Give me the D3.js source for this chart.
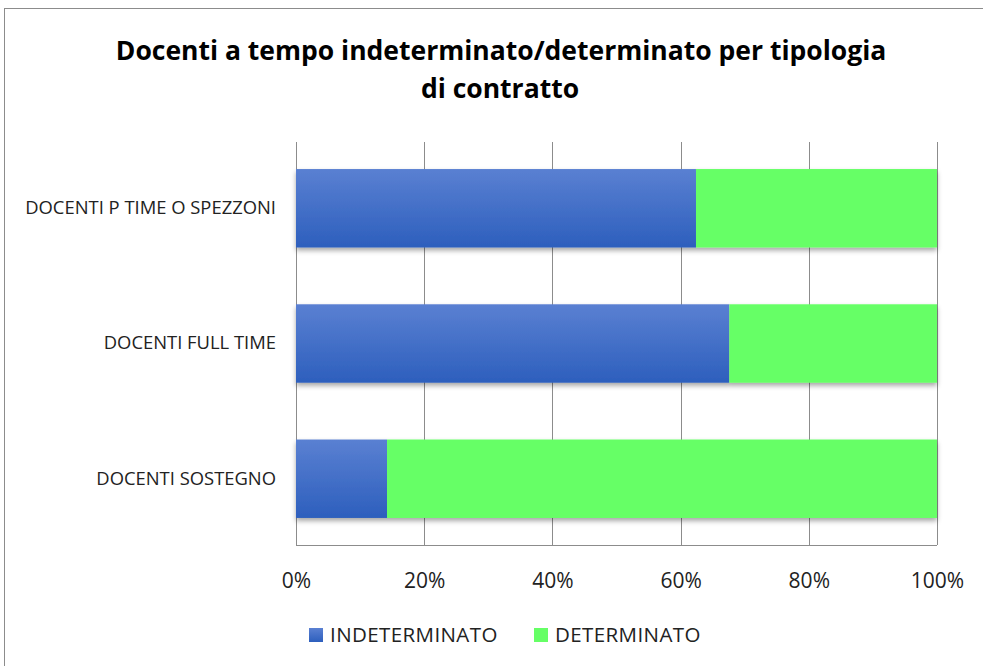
<!DOCTYPE html>
<html>
<head>
<meta charset="utf-8">
<script src="https://cdn.jsdelivr.net/npm/d3@7"></script>
<style>
  html, body { margin: 0; padding: 0; background: #fff; }
  #chart { width: 983px; height: 666px; }
</style>
</head>
<body>
<div id="chart"></div>
<script>
const categories = ["DOCENTI P TIME O SPEZZONI", "DOCENTI FULL TIME", "DOCENTI SOSTEGNO"];
const indeterminato = [62.4, 67.6, 14.2];
const determinato = [37.6, 32.4, 85.8];
const seriesNames = ["INDETERMINATO", "DETERMINATO"];
const tickValues = [0, 20, 40, 60, 80, 100];

function draw() {
  const w = 983, h = 666;
  const margin = { top: 142, right: 46, bottom: 121, left: 296 };
  const innerW = w - margin.left - margin.right;
  const innerH = h - margin.top - margin.bottom;
  const font = "'Open Sans', sans-serif";

  const svg = d3.select("#chart").append("svg")
    .attr("width", w).attr("height", h)
    .style("font-family", font);

  const defs = svg.append("defs");
  const grad = defs.append("linearGradient")
    .attr("id", "blueGrad").attr("x1", 0).attr("y1", 0).attr("x2", 0).attr("y2", 1);
  grad.append("stop").attr("offset", "0%").attr("stop-color", "#5a80d2");
  grad.append("stop").attr("offset", "100%").attr("stop-color", "#2d5fbd");
  const shadow = defs.append("filter").attr("id", "shadow")
    .attr("x", "-5%").attr("y", "-20%").attr("width", "110%").attr("height", "150%");
  shadow.append("feDropShadow").attr("dx", 0).attr("dy", 3).attr("stdDeviation", 2.5)
    .attr("flood-color", "#000").attr("flood-opacity", 0.35);

  // outer frame
  svg.append("rect")
    .attr("x", 4.5).attr("y", 8.5).attr("width", w + 10).attr("height", h + 10)
    .attr("fill", "none").attr("stroke", "#8c8c8c").attr("stroke-width", 1);

  // title
  const title = svg.append("text")
    .attr("text-anchor", "middle")
    .attr("font-weight", "bold")
    .attr("font-size", 26.5)
    .attr("fill", "#000");
  title.append("tspan").attr("x", 501).attr("y", 60).text("Docenti a tempo indeterminato/determinato per tipologia");
  title.append("tspan").attr("x", 500).attr("y", 98).text("di contratto");

  const g = svg.append("g").attr("transform", `translate(${margin.left},${margin.top})`);

  const x = d3.scaleLinear().domain([0, 100]).range([0, innerW]);
  const y = d3.scaleBand().domain(categories).range([0, innerH]).paddingInner(0.42).paddingOuter(0.2);

  // gridlines
  g.append("g").selectAll("line")
    .data(tickValues)
    .join("line")
    .attr("x1", d => Math.round(x(d)) + 0.5).attr("x2", d => Math.round(x(d)) + 0.5)
    .attr("y1", 0).attr("y2", innerH)
    .attr("stroke", "#8c8c8c");
  g.append("line")
    .attr("x1", 0).attr("x2", innerW)
    .attr("y1", innerH + 0.5).attr("y2", innerH + 0.5)
    .attr("stroke", "#8c8c8c");

  const stacked = categories.map((c, i) => ({ c, a: indeterminato[i], b: determinato[i] }));

  const bars = g.append("g").attr("filter", "url(#shadow)");
  bars.selectAll("rect.ind")
    .data(stacked)
    .join("rect")
    .attr("class", "ind")
    .attr("x", x(0))
    .attr("y", d => y(d.c))
    .attr("width", d => x(d.a) - x(0))
    .attr("height", y.bandwidth())
    .attr("fill", "url(#blueGrad)");
  bars.selectAll("rect.det")
    .data(stacked)
    .join("rect")
    .attr("class", "det")
    .attr("x", d => x(d.a))
    .attr("y", d => y(d.c))
    .attr("width", d => x(d.a + d.b) - x(d.a))
    .attr("height", y.bandwidth())
    .attr("fill", "#66ff66");

  // x axis labels
  const xAxis = g.append("g")
    .attr("transform", `translate(0,${innerH})`)
    .call(d3.axisBottom(x).tickValues(tickValues).tickFormat(d => d + "%").tickSize(0).tickPadding(28));
  xAxis.select(".domain").remove();
  xAxis.selectAll("text")
    .attr("font-family", font)
    .attr("font-size", 21)
    .attr("fill", "#222");

  // y axis labels
  const yAxis = g.append("g")
    .call(d3.axisLeft(y).tickSize(0).tickPadding(20));
  yAxis.select(".domain").remove();
  yAxis.selectAll("text")
    .attr("font-family", font)
    .attr("font-size", 18.4)
    .attr("fill", "#222");

  // legend
  const legendColors = ["url(#blueGrad)", "#66ff66"];
  const legendX = [309, 534];
  const legend = svg.append("g");
  seriesNames.forEach((name, i) => {
    legend.append("rect")
      .attr("x", legendX[i]).attr("y", 628)
      .attr("width", 14).attr("height", 14)
      .attr("fill", legendColors[i]);
    legend.append("text")
      .attr("x", legendX[i] + 21).attr("y", 642)
      .attr("font-size", 20.5)
      .attr("letter-spacing", 0.4)
      .attr("fill", "#222")
      .text(name);
  });
}

draw();
</script>
</body>
</html>
